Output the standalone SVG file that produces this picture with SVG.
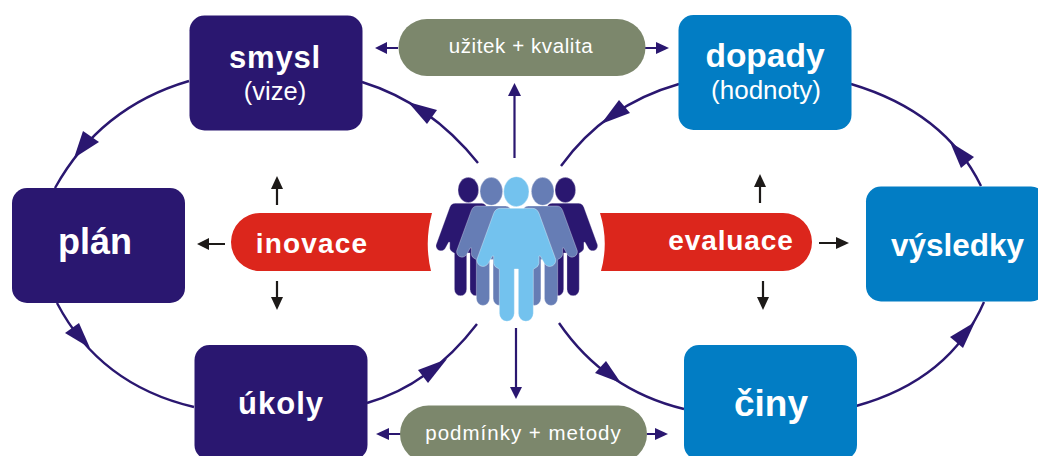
<svg xmlns="http://www.w3.org/2000/svg" width="1038" height="456" viewBox="0 0 1038 456">
<style>
text{font-family:"Liberation Sans",Arial,sans-serif;fill:#fff;text-anchor:middle}
.b{font-weight:700}
.navy{fill:#2a1770}.blue{fill:#027dc4}.green{fill:#7c876c}.red{fill:#dc261c}
.arc{fill:none;stroke:#2a1770;stroke-width:2.4}
.ln{stroke:#2a1770;stroke-width:2.2;fill:none}
.lk{stroke:#1d1a18;stroke-width:2.2;fill:none}
.hn{fill:#2a1770}.hk{fill:#1d1a18}
</style>
<defs>
<path id="p" d="M-48 175H48Q62 175 68 190L116 322A18 18 0 0 1 84 340L72 318H68V340Q68 350 51 358V490A22.500 24 0 0 1 6 490V357H-6V490A22.500 24 0 0 1-51 490V358Q-68 350-68 340V318H-72L-84 340A18 18 0 0 1-116 322L-68 190Q-62 175-48 175Z"/>
</defs>
<g id="connectors">
<path class="arc" d="M189 81Q100 107 55 188"/>
<path class="arc" d="M362 82Q430 103 478 163"/>
<path class="arc" d="M57 303Q100 385 194 407"/>
<path class="arc" d="M367 403Q430 385 477 324"/>
<path class="arc" d="M679 84Q605 105 561 166"/>
<path class="arc" d="M851 84Q945 112 981 186"/>
<path class="arc" d="M984 302Q950 380 856 406"/>
<path class="arc" d="M559 323Q605 390 684 409"/>
<polygon class="hn" points="74,158 83,131 99,142"/>
<polygon class="hn" points="408,102 437,110 427,124"/>
<polygon class="hn" points="90,348 65,333 79,323"/>
<polygon class="hn" points="447,359 418,370 428,383"/>
<polygon class="hn" points="601,124 619,100 630,113"/>
<polygon class="hn" points="950,142 974,157 961,168"/>
<polygon class="hn" points="975,322 950,337 963,348"/>
<polygon class="hn" points="621,383 595,373 606,361"/>
<path class="ln" d="M398 48H385M645 48H658M514.500 158V93M516 328V390M401 434H386M647 434H658"/>
<polygon class="hn" points="375,48 387,42 387,54"/>
<polygon class="hn" points="669,48 656,42 656,54"/>
<polygon class="hn" points="514.500,83 508,96 521,96"/>
<polygon class="hn" points="516,399 510,387 522,387"/>
<polygon class="hn" points="376,434 389,428 389,440"/>
<polygon class="hn" points="668,434 655,428 655,440"/>
<path class="lk" d="M277 205V186M225 244H205M277 281V299M760 203V185M819 243H837M763 281V299"/>
<polygon class="hk" points="277,176 271,189 283,189"/>
<polygon class="hk" points="197,244 209,238 209,250"/>
<polygon class="hk" points="277,310 271,297 283,297"/>
<polygon class="hk" points="760,174 754,187 766,187"/>
<polygon class="hk" points="849,243 836,237 836,249"/>
<polygon class="hk" points="763,310 757,297 769,297"/>
</g>
<g id="smysl"><rect class="navy" x="189.500" y="15.500" width="173" height="115" rx="15"/><text class="b" x="275" y="68" font-size="31" letter-spacing=".8">smysl</text><text x="275" y="100" font-size="25.500">(vize)</text></g>
<g id="plan"><rect class="navy" x="12" y="188" width="173" height="115" rx="15"/><text class="b" x="95" y="254" font-size="36">plán</text></g>
<g id="ukoly"><rect class="navy" x="194.500" y="345" width="173" height="115" rx="15"/><text class="b" x="281" y="414" font-size="31" letter-spacing="1">úkoly</text></g>
<g id="dopady"><rect class="blue" x="678.500" y="15" width="173" height="115" rx="15"/><text class="b" x="765" y="67" font-size="33.500">dopady</text><text x="766" y="99" font-size="26">(hodnoty)</text></g>
<g id="vysledky"><rect class="blue" x="866" y="186.500" width="180" height="115" rx="15"/><text class="b" x="957.500" y="256" font-size="31.500">výsledky</text></g>
<g id="ciny"><rect class="blue" x="684" y="345" width="173" height="115" rx="15"/><text class="b" x="771" y="416" font-size="37">činy</text></g>
<g id="uzitek"><rect class="green" x="398.500" y="19" width="247" height="57" rx="28.500"/><text x="521" y="53" font-size="20.500" letter-spacing=".6">užitek + kvalita</text></g>
<g id="podminky"><rect class="green" x="400" y="405.500" width="247" height="57" rx="28.500"/><text x="523.500" y="440" font-size="20.500" letter-spacing="1">podmínky + metody</text></g>
<g id="inovace"><path class="red" d="M432 213H260A29 29 0 0 0 260 271H431Q424 242 432 213Z"/><text class="b" x="312" y="253" font-size="28" letter-spacing="1.200">inovace</text></g>
<g id="evaluace"><path class="red" d="M600 213H783A29 29 0 0 1 783 271H601Q609 242 600 213Z"/><text class="b" x="731" y="250" font-size="28" letter-spacing=".9">evaluace</text></g>
<g id="people" transform="translate(400 150) scale(.33333)" stroke="#fff" stroke-width="1.500" stroke-opacity=".7">
<ellipse cx="205" cy="120" rx="31" ry="38" fill="#2a1770"/><ellipse cx="496" cy="120" rx="31" ry="38" fill="#2a1770"/>
<use href="#p" fill="#2a1770" transform="translate(205 16) scale(.82)"/>
<use href="#p" fill="#2a1770" transform="translate(496 16) scale(.82)"/>
<ellipse cx="274" cy="124" rx="34" ry="42" fill="#667db5"/><ellipse cx="428" cy="124" rx="34" ry="42" fill="#667db5"/>
<use href="#p" fill="#667db5" transform="translate(274 14) scale(.88)"/>
<use href="#p" fill="#667db5" transform="translate(428 14) scale(.88)"/>
<ellipse cx="349" cy="125" rx="38" ry="45" fill="#73c2ee"/>
<use href="#p" fill="#73c2ee" transform="translate(349 0)"/>
</g>
</svg>
